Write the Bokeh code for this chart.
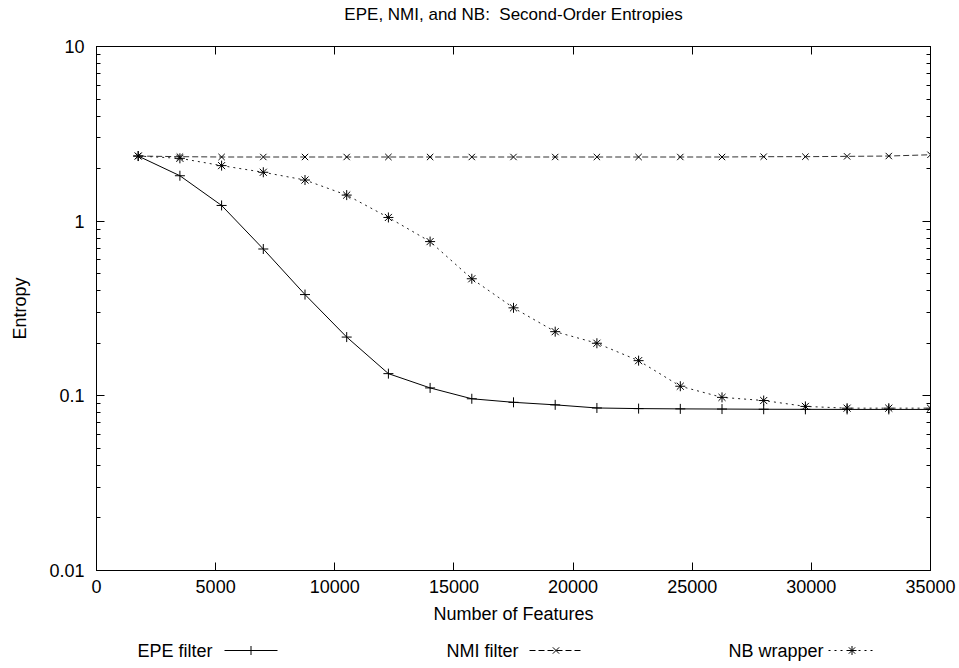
from bokeh.plotting import figure
from bokeh.layouts import column
from bokeh.models import (LogAxis, LinearAxis, SingleIntervalTicker, LogTicker,
                          CustomJSTickFormatter, Range1d, CustomLabelingPolicy)
from bokeh.core.properties import value
from bokeh.embed import file_html
from bokeh.resources import INLINE

# ---- data ----
features = [1750, 3500, 5250, 7000, 8750, 10500, 12250, 14000, 15750, 17500,
            19250, 21000, 22750, 24500, 26250, 28000, 29750, 31500, 33250, 35000]
epe_filter = [2.36, 1.82, 1.23, 0.693, 0.38, 0.217, 0.134, 0.111, 0.0962, 0.0918,
              0.0888, 0.0852, 0.0845, 0.0842, 0.0840, 0.0838, 0.0837, 0.0836, 0.0836, 0.0836]
nmi_filter = [2.36, 2.34, 2.33, 2.33, 2.33, 2.33, 2.33, 2.33, 2.33, 2.33,
              2.33, 2.33, 2.33, 2.33, 2.33, 2.34, 2.34, 2.35, 2.36, 2.40]
nb_wrapper = [2.36, 2.29, 2.08, 1.905, 1.72, 1.41, 1.05, 0.764, 0.468, 0.319,
              0.233, 0.200, 0.159, 0.1135, 0.098, 0.094, 0.087, 0.085, 0.085, 0.085]
series_names = ["EPE filter", "NMI filter", "NB wrapper"]
title_text = "EPE, NMI, and NB:\u00a0 Second-Order Entropies"

FONT = "Liberation Sans"
FS = "18px"

def strip(h):
    # frames of the column's children are aligned to the main frame (pixels 96..930)
    s = figure(width=959, height=h, x_range=Range1d(96, 930), y_range=Range1d(0, h),
               output_backend="svg", toolbar_location=None, min_border=0,
               min_border_left=96, min_border_right=29,
               border_fill_color="white", outline_line_color=None)
    s.axis.visible = False
    s.xgrid.visible = False
    s.ygrid.visible = False
    return s

# ---- title strip ----
head = strip(30)
head.text([513], [16], text=[title_text], text_font=value(FONT), text_font_size="17px",
          text_align="center", text_baseline="middle", text_color="black")

# ---- main plot ----
p = figure(width=959, height=600, x_range=Range1d(0, 35000), y_range=Range1d(0.01, 10),
           y_axis_type="log", output_backend="svg", toolbar_location=None,
           min_border_left=96, min_border_right=29, min_border_top=16, min_border_bottom=60)
p.xgrid.visible = False
p.ygrid.visible = False
p.outline_line_color = "black"
p.outline_line_width = 1
p.outline_line_alpha = 1.0
p.background_fill_color = "white"
p.border_fill_color = "white"

xt = SingleIntervalTicker(interval=5000, num_minor_ticks=0)
yt = LogTicker(num_minor_ticks=10)
yfmt = CustomJSTickFormatter(code="return String(Number(tick.toPrecision(6)))")

def style(ax, labels=True):
    ax.major_tick_in = 8
    ax.major_tick_out = 0
    ax.minor_tick_in = 4
    ax.minor_tick_out = 0
    ax.major_tick_line_color = "black"
    ax.minor_tick_line_color = "black"
    ax.axis_line_color = "black"
    ax.major_label_text_font = FONT
    ax.major_label_text_font_size = FS
    ax.major_label_text_color = "black"
    ax.axis_label_text_font = FONT
    ax.axis_label_text_font_size = FS
    ax.axis_label_text_font_style = "normal"
    ax.axis_label_text_color = "black"
    if not labels:
        ax.major_label_policy = CustomLabelingPolicy(code="return new Set()")
        ax.major_label_text_font_size = "0px"
        ax.major_label_standoff = 0

xa = p.xaxis[0]
xa.ticker = xt
style(xa)
xa.major_label_standoff = 9
xa.axis_label = "Number of Features"
xa.axis_label_standoff = 8

ya = p.yaxis[0]
ya.ticker = yt
ya.formatter = yfmt
style(ya)
ya.major_label_standoff = 12
ya.axis_label = "Entropy"
ya.axis_label_standoff = 16

top = LinearAxis(ticker=xt)
style(top, labels=False)
p.add_layout(top, "above")
right = LogAxis(ticker=yt, formatter=yfmt)
style(right, labels=False)
p.add_layout(right, "right")

p.line(features, epe_filter, line_color="black", line_width=1)
p.scatter(features, epe_filter, marker="cross", size=10, line_color="black", line_width=1)
p.line(features, nmi_filter, line_color="#333333", line_width=1, line_dash="6 3")
p.scatter(features, nmi_filter, marker="x", size=9, line_color="black", line_width=1)
p.line(features, nb_wrapper, line_color="#222222", line_width=1, line_dash="2 4")
p.scatter(features, nb_wrapper, marker="asterisk", size=10, line_color="black", line_width=1)

# ---- legend strip (gnuplot style: label, then sample) ----
leg = strip(38)
ly = 18
text_right = [212, 518, 823]
sample_x0 = [224, 529, 828]
sample_x1 = [277, 582, 875]
markers = ["cross", "x", "asterisk"]
dashes = ["solid", "6 3", "2 4"]
for i in range(3):
    leg.text([text_right[i]], [ly], text=[series_names[i]], text_font=value(FONT),
             text_font_size=FS, text_align="right", text_baseline="middle", text_color="black")
    leg.line([sample_x0[i], sample_x1[i]], [ly, ly], line_color="black", line_width=1,
             line_dash=dashes[i])
    leg.scatter([(sample_x0[i] + sample_x1[i]) / 2], [ly], marker=markers[i], size=9,
                line_color="black", line_width=1)

open("out.html", "w").write(file_html(column(head, p, leg, spacing=0), INLINE))
